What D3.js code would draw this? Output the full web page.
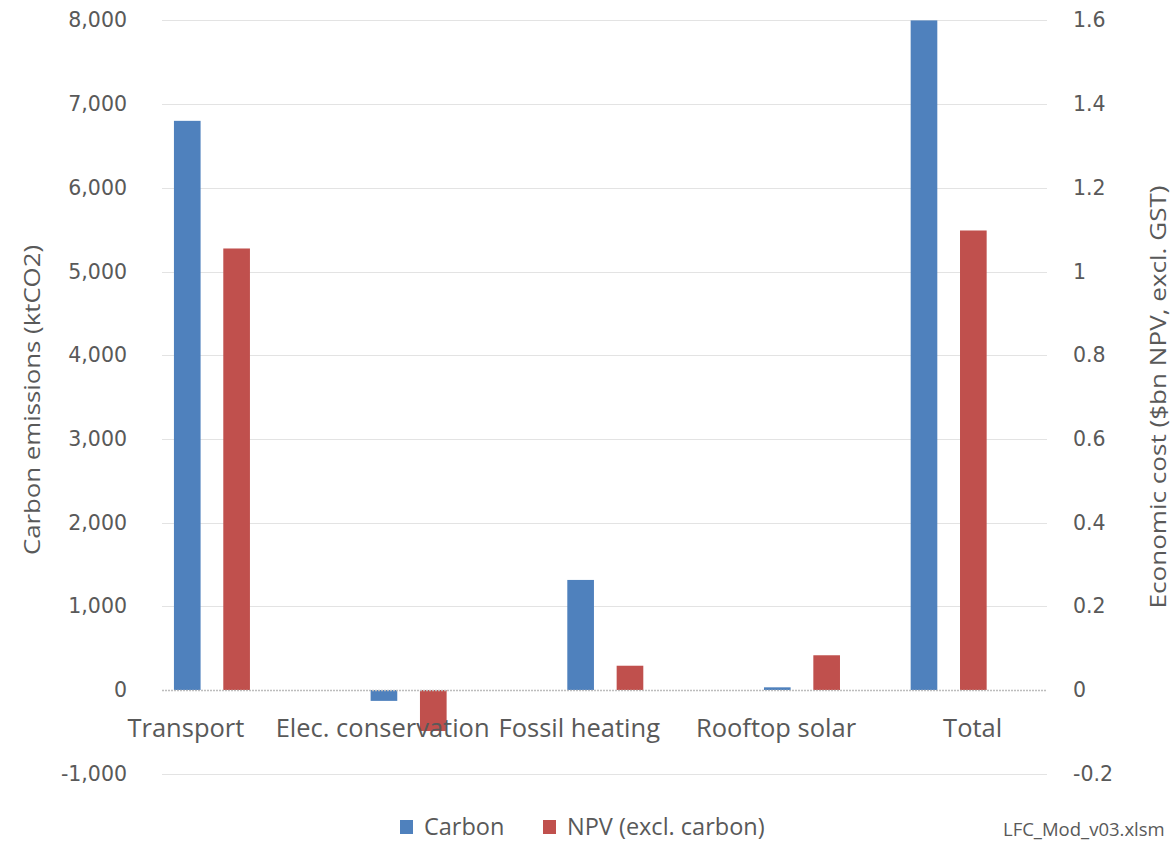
<!DOCTYPE html>
<html>
<head>
<meta charset="utf-8">
<script src="https://cdn.jsdelivr.net/npm/d3@7"></script>
<style>
  html, body { margin: 0; padding: 0; background: #fff; }
  svg { display: block; }
</style>
</head>
<body>
<svg id="chart" width="1174" height="843"></svg>
<script>
// ---- data ----
const categories = ["Transport", "Elec. conservation", "Fossil heating", "Rooftop solar", "Total"];
const carbon = [6800, -130, 1315, 32, 8000];          // ktCO2 (left axis)
const npv = [1.055, -0.098, 0.058, 0.083, 1.098];      // $bn (right axis)
const series = ["Carbon", "NPV (excl. carbon)"];
const leftTicks = [-1000, 0, 1000, 2000, 3000, 4000, 5000, 6000, 7000, 8000];
const rightTicks = [-0.2, 0, 0.2, 0.4, 0.6, 0.8, 1, 1.2, 1.4, 1.6];

// ---- layout ----
const W = 1174, H = 843;
const plotL = 162, plotR = 1047, plotT = 20.4, plotB = 773.7;
const colors = { "Carbon": "#4F81BD", "NPV (excl. carbon)": "#C0504D" };
const textColor = "#595959";
const lastGroupShift = -50;

const svg = d3.select("#chart");

const yL = d3.scaleLinear().domain([-1000, 8000]).range([plotB, plotT]);
const yR = d3.scaleLinear().domain([-0.2, 1.6]).range([plotB, plotT]);

// category scale (labels)
const xCat = d3.scaleBand().domain(categories).range([87.6, 1071]);
// series sub-scale within a group
const xSub = d3.scaleBand().domain(series).range([0, 76]).paddingInner(0.46);

function groupLeft(c, i) {
  const center = xCat(c) + xCat.bandwidth() / 2;
  return center - 12 + (i === categories.length - 1 ? lastGroupShift : 0);
}

// gridlines
svg.append("g").selectAll("line")
  .data(leftTicks.filter(t => t !== 0))
  .join("line")
  .attr("x1", plotL).attr("x2", plotR)
  .attr("y1", d => Math.round(yL(d)) + 0.5).attr("y2", d => Math.round(yL(d)) + 0.5)
  .attr("stroke", "#e3e3e3").attr("stroke-width", 1.2);

// bars - carbon
svg.append("g").selectAll("rect")
  .data(categories.map((c, i) => ({ c, i, v: carbon[i] })))
  .join("rect")
  .attr("x", d => groupLeft(d.c, d.i) + xSub("Carbon"))
  .attr("width", xSub.bandwidth())
  .attr("y", d => Math.min(yL(d.v), yL(0)))
  .attr("height", d => Math.abs(yL(d.v) - yL(0)))
  .attr("fill", colors["Carbon"]);

// bars - npv
svg.append("g").selectAll("rect")
  .data(categories.map((c, i) => ({ c, i, v: npv[i] })))
  .join("rect")
  .attr("x", d => groupLeft(d.c, d.i) + xSub("NPV (excl. carbon)"))
  .attr("width", xSub.bandwidth())
  .attr("y", d => Math.min(yR(d.v), yR(0)))
  .attr("height", d => Math.abs(yR(d.v) - yR(0)))
  .attr("fill", colors["NPV (excl. carbon)"]);

// zero line
svg.append("line")
  .attr("x1", plotL).attr("x2", plotR)
  .attr("y1", yL(0) + 0.5).attr("y2", yL(0) + 0.5)
  .attr("stroke", "#bdbdbd").attr("stroke-width", 1.5)
  .attr("stroke-dasharray", "2,1");

// left axis
const axL = d3.axisLeft(yL).tickValues(leftTicks).tickSize(0).tickPadding(0)
  .tickFormat(d => d3.format(",")(d).replace("\u2212", "-"));
const gL = svg.append("g").attr("transform", "translate(127,0)").call(axL);
gL.select(".domain").remove();
gL.selectAll("text")
  .attr("fill", textColor)
  .style("font-family", "'DejaVu Sans', Verdana, sans-serif")
  .style("font-size", "20.5px");

// right axis
const axR = d3.axisRight(yR).tickValues(rightTicks).tickSize(0).tickPadding(0)
  .tickFormat(d => (d === 0 || d === 1 ? d3.format("d")(d) : d3.format(".1f")(d)).replace("\u2212", "-"));
const gR = svg.append("g").attr("transform", "translate(1073,0)").call(axR);
gR.select(".domain").remove();
gR.selectAll("text")
  .attr("fill", textColor)
  .style("font-family", "'DejaVu Sans', Verdana, sans-serif")
  .style("font-size", "20.5px");

// category labels (drawn on top)
svg.append("g").selectAll("text")
  .data(categories)
  .join("text")
  .attr("x", d => xCat(d) + xCat.bandwidth() / 2)
  .attr("y", 737)
  .attr("text-anchor", "middle")
  .attr("fill", textColor)
  .style("font-family", "'Open Sans', sans-serif")
  .style("font-size", "25.5px")
  .text(d => d);

// axis titles
svg.append("text")
  .attr("transform", "translate(40,400) rotate(-90)")
  .attr("text-anchor", "middle")
  .attr("fill", textColor)
  .attr("textLength", 310).attr("lengthAdjust", "spacingAndGlyphs")
  .style("font-family", "'Liberation Sans Narrow', 'Open Sans', sans-serif")
  .style("font-size", "22px")
  .text("Carbon emissions (ktCO2)");

svg.append("text")
  .attr("transform", "translate(1166,397) rotate(-90)")
  .attr("text-anchor", "middle")
  .attr("fill", textColor)
  .attr("textLength", 423).attr("lengthAdjust", "spacingAndGlyphs")
  .style("font-family", "'Liberation Sans Narrow', 'Open Sans', sans-serif")
  .style("font-size", "22px")
  .text("Economic cost ($bn NPV, excl. GST)");

// legend
const legendX = [400, 543];
const lg = svg.append("g");
series.forEach((s, i) => {
  lg.append("rect").attr("x", legendX[i]).attr("y", 820).attr("width", 13).attr("height", 14)
    .attr("fill", colors[s]);
  lg.append("text").attr("x", legendX[i] + 24).attr("y", 826)
    .attr("dominant-baseline", "central")
    .attr("fill", textColor)
    .style("font-family", "'Open Sans', sans-serif")
    .style("font-size", "23.5px")
    .text(s);
});

// file note
svg.append("text")
  .attr("x", 1003).attr("y", 836)
  .attr("fill", textColor)
  .style("font-family", "'Open Sans', sans-serif")
  .style("font-size", "18.5px")
  .text("LFC_Mod_v03.xlsm");
</script>
</body>
</html>
